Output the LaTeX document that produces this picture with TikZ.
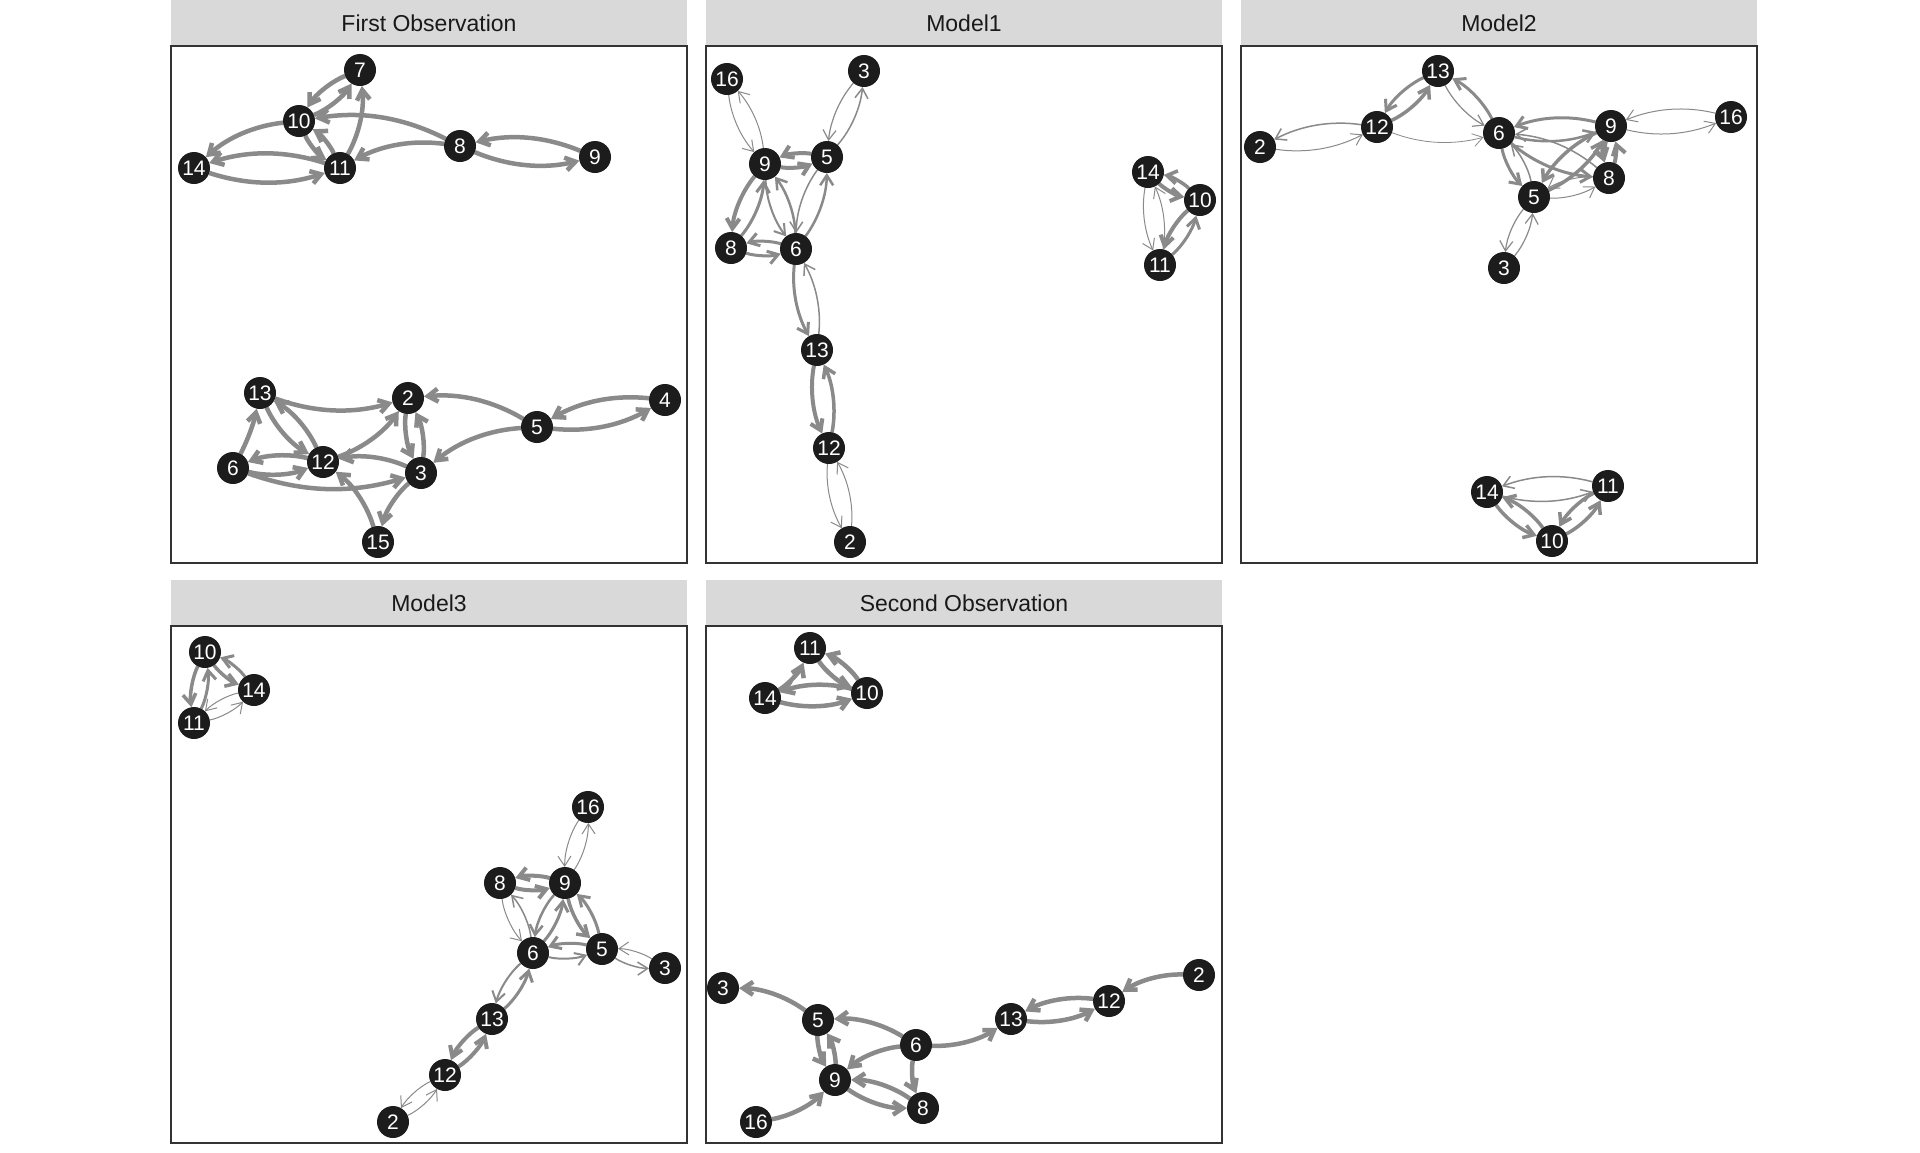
\documentclass[tikz,border=0pt]{standalone}
\usepackage{fontspec}
\setmainfont{Liberation Sans}
\usetikzlibrary{arrows.meta}
\definecolor{edgegray}{HTML}{8A8A8A}
\definecolor{nodefill}{HTML}{1C1C1C}
\definecolor{stripgray}{HTML}{D9D9D9}
\definecolor{framegray}{HTML}{333333}
\pgfdeclarelayer{back}
\pgfdeclarelayer{edges}
\pgfsetlayers{back,edges,main}

\begin{document}
\begin{tikzpicture}[x=1pt,y=-1pt,wt/.style={line width=#1pt}]
\begin{pgfonlayer}{back}
\useasboundingbox[fill=white] (0,0) rectangle (1920,1152);
\end{pgfonlayer}

% panels
\foreach \xa/\ya in {171/0,706/0,1241/0,171/580,706/580} {
  \fill[stripgray] (\xa,\ya) rectangle ++(516,46);
  \draw[framegray,line width=1.3pt] (\xa,\ya+46) rectangle ++(516,517);
}

\begin{scope}[every node/.style={text=black!90,font=\fontsize{23}{23}\selectfont}]
	\node (ta) at (429,23) {First Observation};
	\node (tb) at (964,23) {Model1};
	\node (tc) at (1499,23) {Model2};
	\node (td) at (429,603) {Model3};
	\node (te) at (964,603) {Second Observation};
\end{scope}

\begin{scope}[every node/.style={circle,fill=nodefill,text=white,inner sep=0pt,minimum size=32pt,font=\fontsize{21}{21}\selectfont}]
	% First Observation
	\node (a7) at (360,70) {7};
	\node (a10) at (299,121) {10};
	\node (a14) at (194,168) {14};
	\node (a11) at (340,168) {11};
	\node (a8) at (460,146) {8};
	\node (a9) at (595,157) {9};
	\node (a13) at (260,393) {13};
	\node (a2) at (408,398) {2};
	\node (a4) at (665,400) {4};
	\node (a5) at (537,427) {5};
	\node (a6) at (233,468) {6};
	\node (a12) at (323,462) {12};
	\node (a3) at (421,473) {3};
	\node (a15) at (378,542) {15};
	% Model1
	\node (b16) at (727,79) {16};
	\node (b3) at (864,71) {3};
	\node (b9) at (765,164) {9};
	\node (b5) at (827,157) {5};
	\node (b8) at (731,248) {8};
	\node (b6) at (796,249) {6};
	\node (b13) at (817,350) {13};
	\node (b12) at (829,448) {12};
	\node (b2) at (850,542) {2};
	\node (b14) at (1148,172) {14};
	\node (b10) at (1200,200) {10};
	\node (b11) at (1160,265) {11};
	% Model2
	\node (c13) at (1438,71) {13};
	\node (c12) at (1377,127) {12};
	\node (c2) at (1260,147) {2};
	\node (c6) at (1499,133) {6};
	\node (c9) at (1611,126) {9};
	\node (c16) at (1731,117) {16};
	\node (c8) at (1609,178) {8};
	\node (c5) at (1534,197) {5};
	\node (c3) at (1504,268) {3};
	\node (c14) at (1487,492) {14};
	\node (c11) at (1608,486) {11};
	\node (c10) at (1552,541) {10};
	% Model3
	\node (d10) at (205,652) {10};
	\node (d14) at (254,690) {14};
	\node (d11) at (194,723) {11};
	\node (d16) at (588,807) {16};
	\node (d8) at (500,883) {8};
	\node (d9) at (565,883) {9};
	\node (d6) at (533,953) {6};
	\node (d5) at (602,949) {5};
	\node (d3) at (665,968) {3};
	\node (d13) at (492,1019) {13};
	\node (d12) at (445,1075) {12};
	\node (d2) at (393,1122) {2};
	% Second Observation
	\node (e11) at (810,648) {11};
	\node (e14) at (765,698) {14};
	\node (e10) at (867,693) {10};
	\node (e3) at (723,988) {3};
	\node (e5) at (818,1020) {5};
	\node (e6) at (916,1045) {6};
	\node (e13) at (1011,1019) {13};
	\node (e12) at (1109,1001) {12};
	\node (e2) at (1199,975) {2};
	\node (e9) at (835,1080) {9};
	\node (e8) at (923,1108) {8};
	\node (e16) at (756,1122) {16};
\end{scope}

\begin{pgfonlayer}{edges}
\begin{scope}[every edge/.style={draw=edgegray,line width=4.5pt,-{Straight Barb[length=10pt,width=13pt]},bend right=18,shorten <=16pt,shorten >=16pt}]
	% First Observation
	\path (a7.center) edge (a10.center) (a10.center) edge (a7.center) (a11.center) edge (a7.center);
	\path (a10.center) edge (a14.center) (a10.center) edge (a11.center) (a11.center) edge (a10.center);
	\path (a8.center) edge (a10.center) (a8.center) edge (a11.center);
	\path (a14.center) edge (a11.center) (a11.center) edge (a14.center);
	\path (a8.center) edge (a9.center) (a9.center) edge (a8.center);
	\path (a13.center) edge (a2.center) (a12.center) edge (a13.center) (a13.center) edge (a12.center);
	\path (a6.center) edge[bend right=8] (a13.center);
	\path (a6.center) edge (a12.center) (a12.center) edge (a6.center);
	\path (a6.center) edge (a3.center) (a3.center) edge (a12.center);
	\path (a12.center) edge (a2.center) (a2.center) edge (a3.center) (a3.center) edge (a2.center);
	\path (a5.center) edge (a2.center) (a5.center) edge (a3.center);
	\path (a5.center) edge (a4.center) (a4.center) edge (a5.center);
	\path (a15.center) edge (a12.center) (a3.center) edge (a15.center);
	% Model1
	\path (b16.center) edge[wt=1] (b9.center) (b9.center) edge[wt=1] (b16.center);
	\path (b3.center) edge[wt=1.2] (b5.center) (b5.center) edge[wt=1.5] (b3.center);
	\path (b9.center) edge[wt=4] (b5.center) (b5.center) edge[wt=4] (b9.center);
	\path (b9.center) edge[wt=4] (b8.center) (b8.center) edge[wt=3] (b9.center);
	\path (b9.center) edge[wt=2] (b6.center) (b6.center) edge[wt=2.5] (b9.center);
	\path (b5.center) edge[wt=1.5] (b6.center) (b6.center) edge[wt=2.5] (b5.center);
	\path (b8.center) edge[wt=3] (b6.center) (b6.center) edge[wt=3] (b8.center);
	\path (b6.center) edge[wt=3] (b13.center) (b13.center) edge[wt=1.5] (b6.center);
	\path (b13.center) edge[wt=4] (b12.center) (b12.center) edge[wt=3.5] (b13.center);
	\path (b12.center) edge[wt=1] (b2.center) (b2.center) edge[wt=1] (b12.center);
	\path (b14.center) edge[wt=4] (b10.center) (b10.center) edge[wt=3.5] (b14.center);
	\path (b10.center) edge[wt=4] (b11.center) (b11.center) edge[wt=3] (b10.center);
	\path (b14.center) edge[wt=1] (b11.center) (b11.center) edge[wt=1] (b14.center);
	% Model2
	\path (c2.center) edge[wt=1] (c12.center) (c12.center) edge[wt=1.5] (c2.center);
	\path (c12.center) edge[wt=3.5] (c13.center) (c13.center) edge[wt=3] (c12.center);
	\path (c12.center) edge[wt=0.8] (c6.center);
	\path (c6.center) edge[wt=3] (c13.center) (c13.center) edge[wt=1.2] (c6.center);
	\path (c6.center) edge[wt=2.5] (c9.center) (c9.center) edge[wt=3] (c6.center);
	\path (c9.center) edge[wt=1] (c16.center) (c16.center) edge[wt=1] (c9.center);
	\path (c6.center) edge[wt=3] (c8.center) (c8.center) edge[wt=1.5] (c6.center);
	\path (c6.center) edge[wt=3] (c5.center) (c5.center) edge[wt=1.5] (c6.center);
	\path (c9.center) edge[wt=3.5] (c5.center) (c5.center) edge[wt=3.5] (c9.center);
	\path (c9.center) edge[wt=5] (c8.center) (c8.center) edge[wt=4] (c9.center);
	\path (c5.center) edge[wt=1] (c8.center) (c8.center) edge[wt=1] (c5.center);
	\path (c5.center) edge[wt=1.2] (c3.center) (c3.center) edge[wt=1.2] (c5.center);
	\path (c14.center) edge[wt=1.5] (c11.center) (c11.center) edge[wt=1.5] (c14.center);
	\path (c14.center) edge[wt=3.5] (c10.center) (c10.center) edge[wt=3.5] (c14.center);
	\path (c10.center) edge[wt=3.5] (c11.center) (c11.center) edge[wt=3.5] (c10.center);
	% Model3
	\path (d10.center) edge[wt=3.5] (d11.center) (d11.center) edge[wt=3] (d10.center);
	\path (d10.center) edge[wt=3.5] (d14.center) (d14.center) edge[wt=3] (d10.center);
	\path (d11.center) edge[wt=1] (d14.center) (d14.center) edge[wt=1] (d11.center);
	\path (d16.center) edge[wt=1] (d9.center) (d9.center) edge[wt=1] (d16.center);
	\path (d8.center) edge[wt=4] (d9.center) (d9.center) edge[wt=4] (d8.center);
	\path (d8.center) edge[wt=1] (d6.center) (d6.center) edge[wt=1.5] (d8.center);
	\path (d9.center) edge[wt=2.5] (d6.center) (d6.center) edge[wt=3] (d9.center);
	\path (d9.center) edge[wt=3.5] (d5.center) (d5.center) edge[wt=3] (d9.center);
	\path (d6.center) edge[wt=2] (d5.center) (d5.center) edge[wt=3] (d6.center);
	\path (d5.center) edge[wt=1.5] (d3.center) (d3.center) edge[wt=1] (d5.center);
	\path (d6.center) edge[wt=2] (d13.center) (d13.center) edge[wt=3] (d6.center);
	\path (d13.center) edge[wt=4] (d12.center) (d12.center) edge[wt=4] (d13.center);
	\path (d12.center) edge[wt=1] (d2.center) (d2.center) edge[wt=1] (d12.center);
	% Second Observation
	\path (e14.center) edge (e11.center) (e11.center) edge (e10.center) (e10.center) edge (e11.center);
	\path (e14.center) edge (e10.center) (e10.center) edge (e14.center);
	\path (e5.center) edge (e3.center) (e6.center) edge (e5.center);
	\path (e5.center) edge (e9.center) (e9.center) edge (e5.center);
	\path (e6.center) edge (e9.center) (e6.center) edge (e8.center);
	\path (e9.center) edge (e8.center) (e8.center) edge (e9.center);
	\path (e16.center) edge (e9.center) (e6.center) edge (e13.center);
	\path (e13.center) edge (e12.center) (e12.center) edge (e13.center);
	\path (e2.center) edge (e12.center);
\end{scope}
\end{pgfonlayer}
\end{tikzpicture}
\end{document}
